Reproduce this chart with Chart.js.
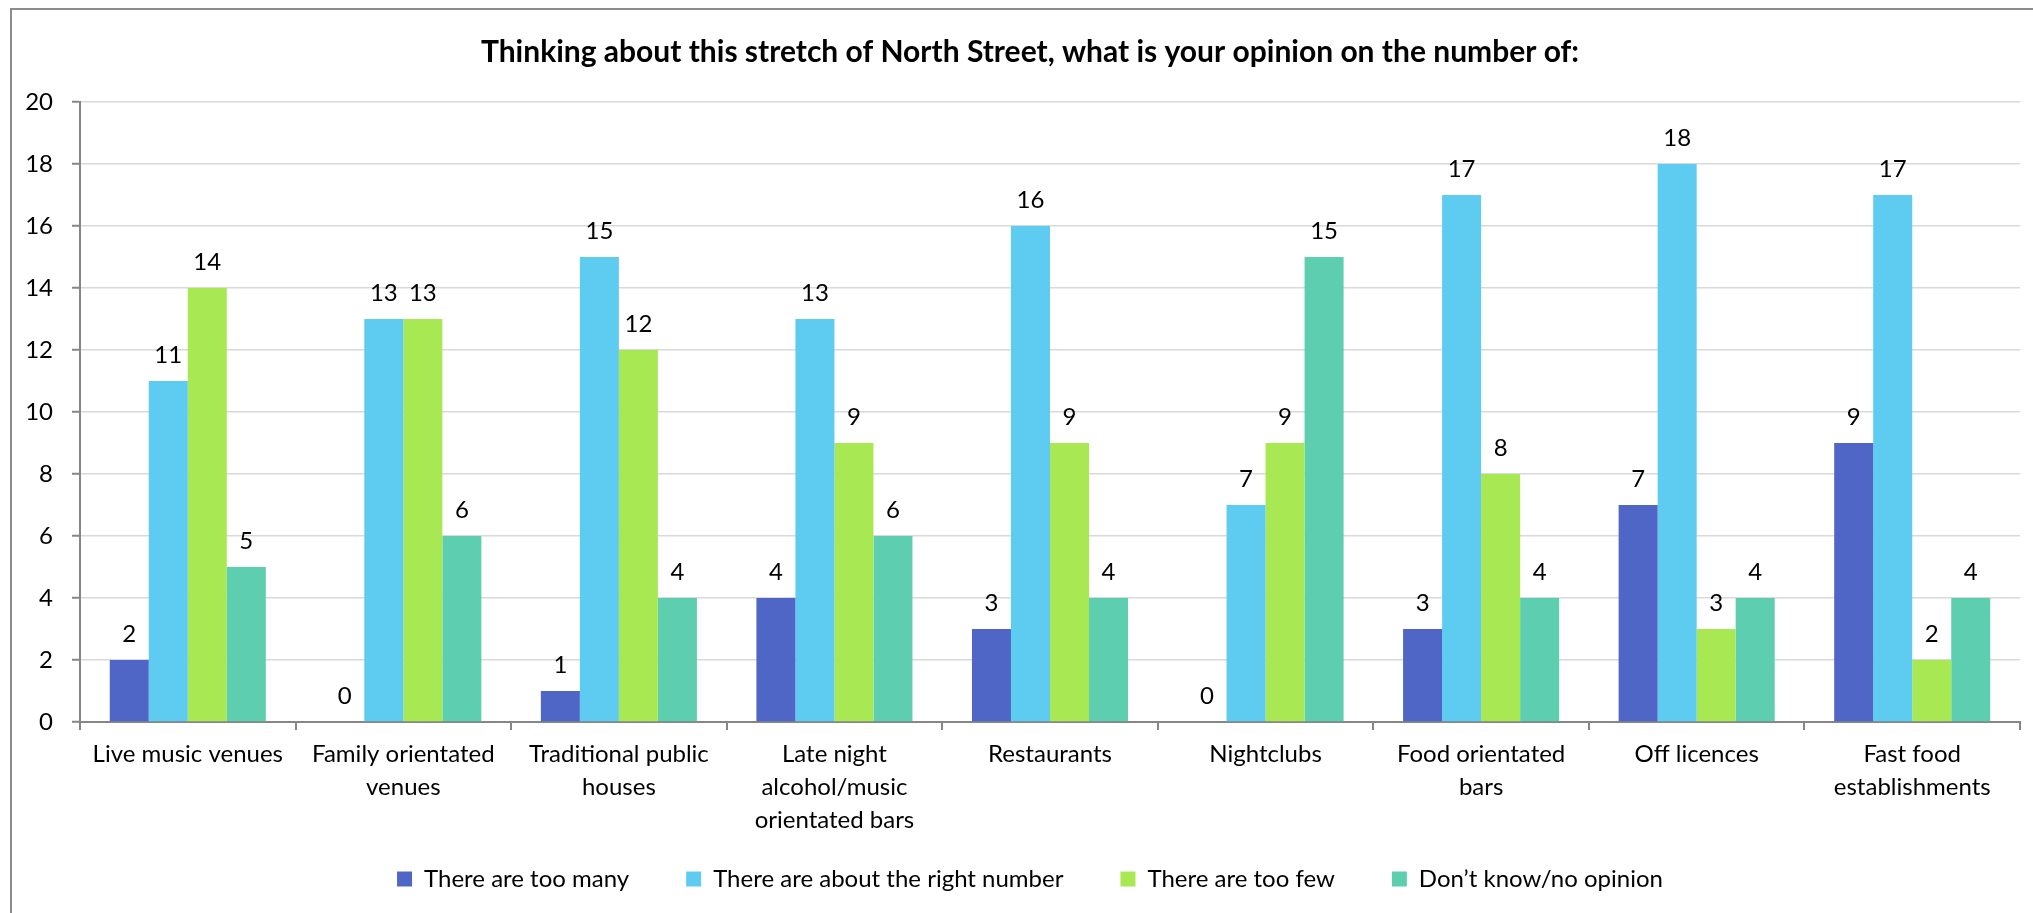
<!DOCTYPE html>
<html>
<head>
<meta charset="utf-8">
<script src="https://cdn.jsdelivr.net/npm/chart.js@4/dist/chart.umd.min.js"></script>
<style>
  html, body { margin: 0; padding: 0; background: #fff; overflow: hidden; width: 2033px; height: 913px; }
  #frame { position: absolute; left: 10px; top: 8px; width: 2100px; height: 1000px;
           border-left: 2px solid #8c8c8c; border-top: 2px solid #8c8c8c; }
  #wrap { position: absolute; left: 0; top: 0; width: 2060px; height: 913px; }
</style>
</head>
<body>
<div id="frame"></div>
<div id="wrap"><canvas id="c"></canvas></div>
<script>
const titleText = 'Thinking about this stretch of North Street, what is your opinion on the number of:';
const categories = [
  'Live music venues',
  ['Family orientated', 'venues'],
  ['Traditional public', 'houses'],
  ['Late night', 'alcohol/music', 'orientated bars'],
  'Restaurants',
  'Nightclubs',
  ['Food orientated', 'bars'],
  'Off licences',
  ['Fast food', 'establishments']
];
const seriesNames = ['There are too many', 'There are about the right number', 'There are too few', 'Don\u2019t know/no opinion'];
const tooMany     = [2, 0, 1, 4, 3, 0, 3, 7, 9];
const rightNumber = [11, 13, 15, 13, 16, 7, 17, 18, 17];
const tooFew      = [14, 13, 12, 9, 9, 9, 8, 3, 2];
const dontKnow    = [5, 6, 4, 6, 4, 15, 4, 4, 4];
const yTicks = { min: 0, max: 20, step: 2 };

const colors = ['#4F66C7', '#5ECBF1', '#A8E853', '#5DCEB0'];
const FONT = 'Lato';
const axisGray = '#868686';

Chart.defaults.font.family = FONT;
Chart.defaults.color = '#000';

const valueLabels = {
  id: 'valueLabels',
  afterDatasetsDraw(chart) {
    const ctx = chart.ctx;
    ctx.save();
    ctx.font = '24px ' + FONT;
    ctx.fillStyle = '#000';
    ctx.textAlign = 'center';
    ctx.textBaseline = 'middle';
    chart.data.datasets.forEach((ds, di) => {
      const meta = chart.getDatasetMeta(di);
      meta.data.forEach((el, i) => {
        ctx.fillText(String(ds.data[i]), el.x, el.y - 26);
      });
    });
    ctx.restore();
  }
};

const legendPad = 57;

new Chart(document.getElementById('c'), {
  type: 'bar',
  data: {
    labels: categories,
    datasets: [tooMany, rightNumber, tooFew, dontKnow].map((d, i) => ({
      label: seriesNames[i],
      data: d,
      backgroundColor: colors[i],
      borderWidth: 0,
      categoryPercentage: 0.724,
      barPercentage: 1
    }))
  },
  options: {
    responsive: true,
    maintainAspectRatio: false,
    animation: false,
    layout: { padding: { left: 0, right: 0, top: 0, bottom: 12 } },
    plugins: {
      tooltip: { enabled: false },
      title: {
        display: true,
        text: titleText,
        color: '#000',
        font: { family: FONT, size: 30, weight: 'bold', lineHeight: 1.2 },
        padding: { top: 34, bottom: 32 }
      },
      legend: {
        position: 'bottom',
        labels: {
          boxWidth: 15,
          boxHeight: 15,
          padding: legendPad,
          color: '#000',
          font: { family: FONT, size: 24 }
        }
      }
    },
    scales: {
      x: {
        grid: { display: true, drawOnChartArea: false, color: axisGray, lineWidth: 2, tickLength: 8, offset: true },
        border: { display: true, color: axisGray, width: 2 },
        ticks: { color: '#000', font: { family: FONT, size: 24, lineHeight: 1.375 }, padding: 8, maxRotation: 0, autoSkip: false },
        afterFit(scale) {
          scale.height = 913 - 12 - (24 + legendPad + 10) - 722;
          scale._computeLabelArea = function () { return undefined; };
        }
      },
      y: {
        min: yTicks.min, max: yTicks.max,
        grid: { color: '#D9D9D9', lineWidth: 1.5, tickColor: axisGray, tickLength: 8, tickWidth: 2 },
        border: { display: true, color: axisGray, width: 2 },
        ticks: { stepSize: yTicks.step, color: '#000', font: { family: FONT, size: 24 }, padding: 19 },
        afterFit(scale) { scale.width = 80; }
      },
      yRight: {
        position: 'right',
        display: true,
        min: yTicks.min, max: yTicks.max,
        grid: { display: false, drawTicks: false },
        border: { display: false },
        ticks: { display: false },
        afterFit(scale) { scale.width = 40; }
      }
    }
  },
  plugins: [valueLabels]
});
</script>
</body>
</html>
